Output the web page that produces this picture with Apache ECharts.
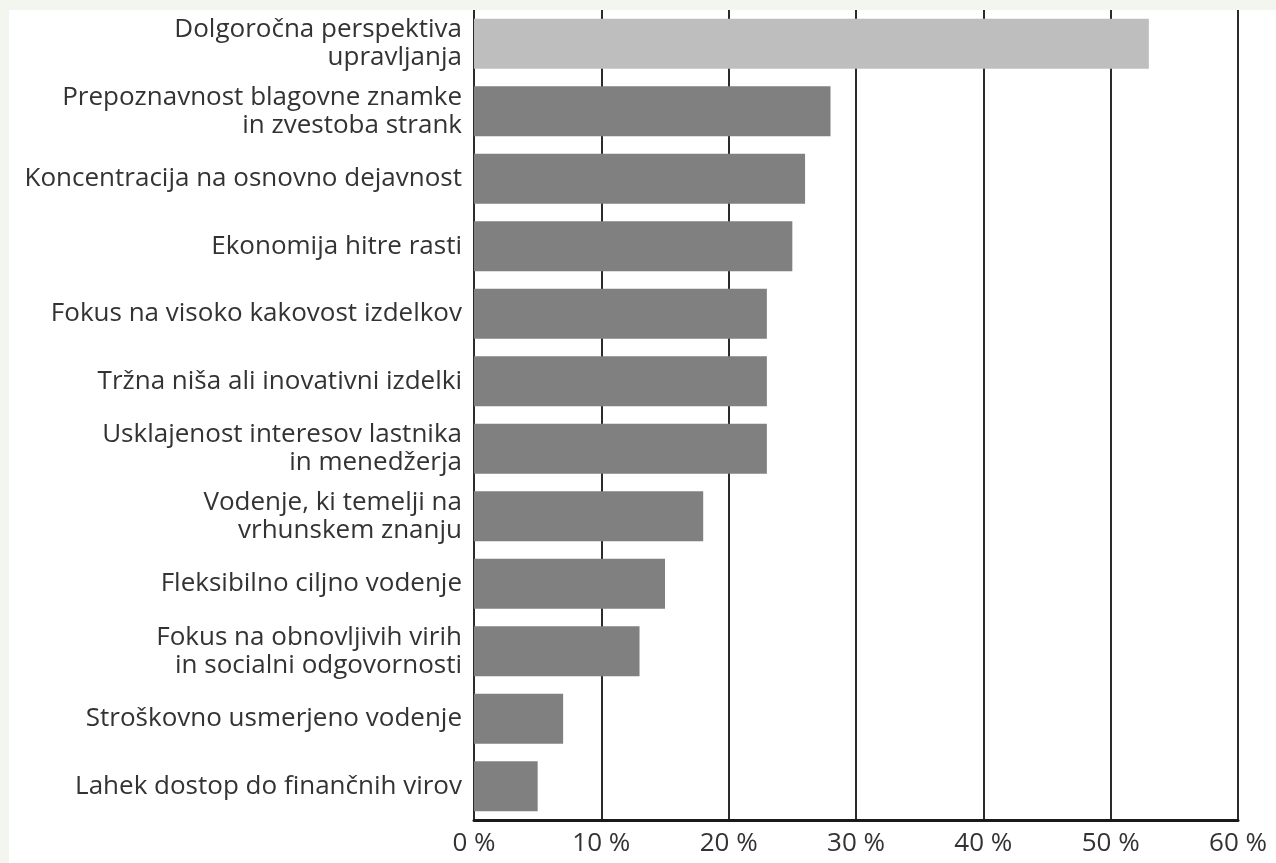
<!DOCTYPE html>
<html>
<head>
<meta charset="utf-8">
<script src="https://cdn.jsdelivr.net/npm/echarts@6/dist/echarts.min.js"></script>
<style>
  html, body { margin: 0; padding: 0; background: #f3f6ee; }
  #chart { position: absolute; left: 9px; top: 10px; width: 1267px; height: 853px; background: #fff; }
</style>
</head>
<body>
<div id="chart"></div>
<script>
var categories = [
    'Dolgoročna perspektiva\nupravljanja',
    'Prepoznavnost blagovne znamke\nin zvestoba strank',
    'Koncentracija na osnovno dejavnost',
    'Ekonomija hitre rasti',
    'Fokus na visoko kakovost izdelkov',
    'Tržna niša ali inovativni izdelki',
    'Usklajenost interesov lastnika\nin menedžerja',
    'Vodenje, ki temelji na\nvrhunskem znanju',
    'Fleksibilno ciljno vodenje',
    'Fokus na obnovljivih virih\nin socialni odgovornosti',
    'Stroškovno usmerjeno vodenje',
    'Lahek dostop do finančnih virov'
];
var values = [53, 28, 26, 25, 23, 23, 23, 18, 15, 13, 7, 5];
var barColors = ['#bebebe', '#808080', '#808080', '#808080', '#808080', '#808080',
                 '#808080', '#808080', '#808080', '#808080', '#808080', '#808080'];

var font = '"Open Sans", "Noto Sans", sans-serif';

var option = {
    animation: false,
    grid: { left: 465, right: 38, top: 0, bottom: 43 },
    xAxis: {
        type: 'value',
        min: 0,
        max: 60,
        interval: 10,
        axisLine: { show: true, lineStyle: { color: '#1a1a1a', width: 3 } },
        axisTick: { show: false },
        axisLabel: {
            formatter: '{value} %',
            color: '#333',
            fontSize: 26,
            fontFamily: font,
            margin: 11
        },
        splitLine: { show: true, lineStyle: { color: '#2b2b2b', width: 2 } }
    },
    yAxis: {
        type: 'category',
        inverse: true,
        data: categories,
        axisLine: { show: true, lineStyle: { color: '#2b2b2b', width: 2 } },
        axisTick: { show: false },
        axisLabel: {
            color: '#333',
            fontSize: 26,
            fontFamily: font,
            lineHeight: 28,
            margin: 12
        }
    },
    series: [{
        type: 'bar',
        data: values.map(function (v, i) {
            return { value: v, itemStyle: { color: barColors[i] } };
        }),
        barCategoryGap: '26%'
    }]
};

var chart = echarts.init(document.getElementById('chart'));
chart.setOption(option);
</script>
</body>
</html>
